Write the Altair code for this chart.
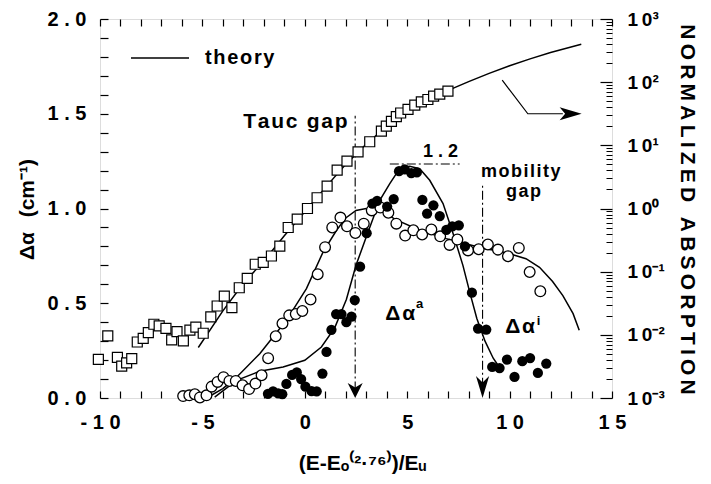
import altair as alt
import pandas as pd

FONT = "Liberation Sans"
HAIR = "\u200a"
THIN = "\u2009"
EN = "\u2002"


def spaced(s, sep=HAIR):
    return sep.join(s)


# ---- normalized absorption (right axis, log scale) ----
sq_x = [-10.08, -9.62, -9.15, -8.94, -8.70, -8.45, -8.18, -7.89, -7.64, -7.37,
        -7.11, -6.78, -6.50, -6.24, -5.93, -5.61, -5.32, -4.96, -4.59, -4.28,
        -3.93, -3.56, -3.20, -2.81, -2.42, -2.03, -1.63, -1.22, -0.81, -0.37,
        0.13, 0.60, 1.09, 1.58, 2.06, 2.60, 3.17, 3.74, 3.98, 4.23, 4.47, 4.68,
        5.04, 5.37, 5.69, 6.01, 6.29, 6.59, 6.99]
sq_y = [0.0041, 0.0096, 0.0044, 0.0032, 0.0036, 0.0042, 0.0077, 0.0088, 0.0108, 0.0147,
        0.0139, 0.0127, 0.0083, 0.0112, 0.0080, 0.0119, 0.0132, 0.0106, 0.0193, 0.0286,
        0.0411, 0.0269, 0.0556, 0.0783, 0.131, 0.140, 0.177, 0.254, 0.50, 0.68,
        1.0, 1.48, 2.26, 4.05, 5.62, 7.9, 11.4, 16.8, 20.1, 24.0, 28.5, 32.5,
        37.0, 43.3, 48.8, 53.2, 60.0, 64.6, 72.1]

# theory curve for the normalized absorption
tha_x = [-5.2, -4.0, -3.0, -2.0, -1.0, 0.0, 1.0, 2.0, 3.0, 4.0, 5.0, 6.0, 7.0,
         8.0, 9.0, 10.0, 11.0, 12.0, 13.5]
tha_y = [0.0063, 0.024, 0.065, 0.148, 0.37, 0.89, 2.14, 5.0, 10.5, 20.0, 34.0, 52.0,
         74.0, 102.0, 138.0, 182.0, 234.0, 295.0, 398.0]

# ---- delta alpha, open circles ----
oc_x = [-5.94, -5.64, -5.37, -5.12, -4.80, -4.55, -4.26, -3.97, -3.68, -3.37,
        -3.04, -2.72, -2.41, -2.11, -1.79, -1.42, -1.09, -0.76, -0.44, -0.12,
        0.28, 0.63, 0.99, 1.34, 1.74, 2.06, 2.47, 2.88, 3.27, 3.69, 4.08, 4.47,
        4.90, 5.30, 5.73, 6.18, 6.61, 7.07, 7.45, 7.97, 8.49, 8.94, 9.43, 9.92,
        10.45, 10.98, 11.50]
oc_y = [0.01, 0.014, 0.02, 0.003, 0.014, 0.06, 0.085, 0.11, 0.09, 0.09,
        0.067, 0.047, 0.076, 0.12, 0.21, 0.326, 0.393, 0.436, 0.443, 0.459,
        0.52, 0.653, 0.796, 0.90, 0.952, 0.906, 0.871, 0.92, 0.99, 1.005, 0.978, 0.92,
        0.857, 0.885, 0.863, 0.889, 0.853, 0.808, 0.836, 0.779, 0.785, 0.81, 0.783, 0.748,
        0.792, 0.665, 0.563]

# ---- delta alpha, filled circles ----
fc_x = [-1.80, -1.55, -1.30, -1.10, -0.90, -0.62, -0.39, -0.18, 0.03, 0.33,
        0.58, 0.86, 1.06, 1.30, 1.53, 1.79, 2.03, 2.28, 2.44, 2.70, 3.02, 3.30,
        3.53, 4.02, 4.34, 4.60, 4.88, 5.20, 5.47, 5.74, 5.97, 6.28, 6.59, 6.91,
        7.20, 7.52, 7.82, 8.16, 8.46, 8.86, 9.15, 9.51, 9.87, 10.24, 10.62, 11.00,
        11.38, 11.79]
fc_y = [0.022, 0.035, 0.025, 0.02, 0.074, 0.122, 0.135, 0.10, 0.06, 0.036,
        0.035, 0.129, 0.243, 0.36, 0.443, 0.443, 0.40, 0.43, 0.517, 0.693, 0.87, 1.026,
        1.04, 1.01, 1.05, 1.197, 1.207, 1.187, 1.19, 1.045, 0.973, 1.017, 0.96, 0.887,
        0.906, 0.911, 0.80, 0.556, 0.366, 0.361, 0.164, 0.158, 0.203, 0.111, 0.194, 0.211,
        0.132, 0.182]

# ---- theory curves for delta alpha ----
tho_x = [-4.8, -4.0, -3.33, -2.2, -0.9, 0.08, 0.89, 1.55, 2.0, 2.5, 3.0, 3.66, 4.47,
         5.61, 6.91, 8.0, 8.7, 9.5, 10.2, 10.8, 11.46, 12.1, 12.6, 13.1, 13.4]
tho_y = [0.0, 0.05, 0.11, 0.234, 0.41, 0.577, 0.77, 0.885, 0.95, 0.99, 1.0, 0.99, 0.94,
         0.885, 0.841, 0.81, 0.79, 0.775, 0.755, 0.735, 0.69, 0.615, 0.54, 0.445, 0.357]
thf_x = [-4.4, -3.33, -2.2, -1.06, 0.0, 0.81, 1.46, 2.03, 2.5, 3.0, 3.66, 4.15, 4.63,
         5.12, 5.61, 6.10, 6.75, 7.24, 7.72, 8.05, 8.4, 8.8, 9.2, 9.45]
thf_y = [0.005, 0.093, 0.141, 0.164, 0.199, 0.269, 0.37, 0.52, 0.70, 0.85, 1.043, 1.131,
         1.21, 1.223, 1.21, 1.149, 1.026, 0.868, 0.70, 0.56, 0.42, 0.30, 0.21, 0.17]

# ---- gap markers and labels ----
tauc_gap = 2.46
mobility_gap = 8.68
peak_value = 1.2

# ---------------------------------------------------------------
sq_df = pd.DataFrame({"x": sq_x, "y": sq_y})
tha_df = pd.DataFrame({"x": tha_x, "y": tha_y, "label": "theory"})
oc_df = pd.DataFrame({"x": oc_x, "y": oc_y})
fc_df = pd.DataFrame({"x": fc_x, "y": fc_y})
th_left_df = pd.concat([
    pd.DataFrame({"x": tho_x, "y": tho_y, "curve": "open"}),
    pd.DataFrame({"x": thf_x, "y": thf_y, "curve": "filled"}),
])

x_scale = alt.Scale(domain=[-10, 15], nice=False, zero=False)
yl_scale = alt.Scale(domain=[0, 2], nice=False, zero=False)
yr_scale = alt.Scale(type="log", domain=[0.001, 1000], nice=False)

label_style = dict(labelFont=FONT, labelFontWeight="bold",
                   labelColor="black", labelFlush=False, labelOverlap=False,
                   labelBound=False, tickColor="black", tickWidth=1.2,
                   domain=False, grid=False)

x_bottom = alt.Axis(
    orient="bottom", values=list(range(-10, 16)), offset=-7, tickSize=7,
    labelPadding=14, labelFontSize=20,
    labelExpr="datum.value % 5 == 0 ? join(split('' + datum.value, ''), ' ') : ''",
    title="(E-Eₒ⁽²·⁷⁶⁾)/Eᵤ", titleFont=FONT, titleFontSize=21,
    titleFontWeight="bold", titleColor="black", titleX=262, titleY=72,
    titleBaseline="middle", titleAlign="center",
    **label_style)
x_top = alt.Axis(orient="top", values=list(range(-10, 16)), offset=-7, tickSize=7,
                 labels=False, title=None, tickColor="black", tickWidth=1.2,
                 domain=False, grid=False)

y_left = alt.Axis(
    orient="left", values=[round(i * 0.1, 1) for i in range(21)], offset=-8, tickSize=8,
    labelPadding=14, labelFontSize=20,
    labelExpr="abs(datum.value * 2 - round(datum.value * 2)) < 0.001 ? "
              "join(split(format(datum.value, '.1f'), ''), ' ') : ''",
    title="Δα" + EN + THIN + "(cm⁻¹)", titleFont=FONT, titleFontSize=21,
    titleFontWeight="bold", titleColor="black", titleAngle=270, titleX=-81, titleY=190,
    titleAlign="center", titleBaseline="middle",
    **label_style)

decades = [0.001, 0.01, 0.1, 1, 10, 100, 1000]
minors = [round(k * d, 4) for d in decades[:-1] for k in range(2, 10)]

y_right_major = alt.Axis(
    orient="right", values=decades, offset=-12, tickSize=12, labelPadding=15,
    labelFontSize=19,
    labelExpr="'1" + THIN + "0' + (datum.value < 1 ? '⁻' : '') + "
              "['⁰','¹','²','³'][round(abs(log(datum.value) / LN10))]",
    title=spaced("NORMALIZED", THIN) + EN + THIN + spaced("ABSORPTION", THIN),
    titleFont=FONT, titleFontSize=21, titleFontWeight="bold", titleColor="black",
    titleAngle=90, titleX=86, titleY=190, titleAlign="center", titleBaseline="middle",
    **label_style)
y_right_minor = alt.Axis(orient="right", values=minors, offset=-6, tickSize=6,
                         labels=False, title=None, tickColor="black", tickWidth=1.0,
                         domain=False, grid=False)

X = alt.X("x:Q", scale=x_scale, axis=x_bottom)
YL = alt.Y("y:Q", scale=yl_scale, axis=y_left)

# ---- left-axis layers ----
theory_left = alt.Chart(th_left_df).mark_line(color="black", strokeWidth=1.5).encode(
    x=X, y=YL, detail="curve:N", order="x:Q")

open_pts = alt.Chart(oc_df).mark_point(
    shape="circle", filled=True, fill="white", stroke="black", strokeWidth=1.3,
    size=115, opacity=1).encode(x=X, y=YL)

filled_pts = alt.Chart(fc_df).mark_circle(color="black", size=105, opacity=1).encode(
    x=X, y=YL)

dashdot = [9, 3, 2, 3]
gap_lines = alt.Chart(pd.DataFrame({
    "x": [tauc_gap, mobility_gap], "y": [0.04, 0.06], "y2": [1.49, 1.12]})
).mark_rule(color="black", strokeWidth=1.1, strokeDash=dashdot).encode(
    x=X, y=YL, y2="y2:Q")

peak_line = alt.Chart(pd.DataFrame({"x": [4.15], "x2": [7.56], "y": [1.235]})).mark_rule(
    color="black", strokeWidth=1.1, strokeDash=dashdot).encode(x=X, x2="x2:Q", y=YL)

tauc_head = alt.Chart(pd.DataFrame({"x": [tauc_gap], "y": [0.04]})).mark_point(
    shape="M-1,-1 L0,1 L1,-1 L0,-0.4 Z", size=225, filled=True, color="black",
    opacity=1).encode(x=X, y=YL)
mob_head = alt.Chart(pd.DataFrame({"x": [mobility_gap], "y": [0.058]})).mark_point(
    shape="M-0.6,-1 L0,1 L0.6,-1 L0,-0.4 Z", size=484, filled=True, color="black",
    opacity=1).encode(x=X, y=YL)

pointer = alt.Chart(pd.DataFrame({"x": [9.64, 10.89, 12.6], "y": [1.677, 1.50, 1.50],
                                  "i": [0, 1, 2]})).mark_line(
    color="black", strokeWidth=1.2).encode(x=X, y=YL, order="i:Q")
pointer_head = alt.Chart(pd.DataFrame({"x": [12.98], "y": [1.50]})).mark_point(
    shape="M-1,-0.6 L1,0 L-1,0.6 L-0.5,0 Z", size=484, filled=True, color="black",
    opacity=1).encode(x=X, y=YL)


def label_layer(texts, xs, ys, size):
    df = pd.DataFrame({"x": xs, "y": ys, "t": texts})
    return alt.Chart(df).mark_text(
        font=FONT, fontSize=size, fontWeight="bold", color="black",
        align="center", baseline="alphabetic").encode(x=X, y=YL, text="t:N")


labels_big = label_layer(
    [spaced("Tauc gap"), spaced("Δα"), spaced("Δα")],
    [-0.46, 4.66, 10.51], [1.427, 0.41, 0.341], 21)
labels_mid = label_layer(
    [spaced("1.2", " "), spaced("mobility"), spaced("gap")],
    [6.63, 10.54, 10.68], [1.27, 1.166, 1.061], 18)
labels_sup = label_layer(["a", "i"], [5.6, 11.42], [0.473, 0.384], 13)

left = alt.layer(theory_left, gap_lines, peak_line, tauc_head, mob_head, pointer,
                 pointer_head, open_pts, filled_pts, labels_big, labels_mid,
                 labels_sup)

# ---- right-axis layers ----
XT = alt.X("x:Q", scale=x_scale, axis=x_top)
theory_abs = alt.Chart(tha_df).mark_line(strokeWidth=1.5).encode(
    x=XT,
    y=alt.Y("y:Q", scale=yr_scale, axis=y_right_major),
    color=alt.Color("label:N", scale=alt.Scale(domain=["theory"], range=["black"]),
                    legend=alt.Legend(
                        orient="none", legendX=30, legendY=9, title=None,
                        symbolType="stroke", symbolSize=3364, symbolStrokeWidth=1.5,
                        symbolStrokeColor="black", labelOffset=15, padding=0,
                        labelFont=FONT, labelFontSize=20, labelFontWeight="bold",
                        labelColor="black",
                        labelExpr="join(split(datum.label, ''), '" + HAIR + "')")),
    order="x:Q")
squares = alt.Chart(sq_df).mark_point(
    shape="square", filled=True, fill="white", stroke="black", strokeWidth=1.2,
    size=100, opacity=1).encode(
    x=XT, y=alt.Y("y:Q", scale=yr_scale, axis=y_right_minor))

right = alt.layer(theory_abs, squares).resolve_axis(y="independent")

chart = alt.layer(left, right).resolve_scale(y="independent").resolve_axis(
    x="independent").properties(
    width=512, height=379,
    autosize=alt.AutoSizeParams(type="none"),
    padding={"left": 100, "top": 19, "right": 99, "bottom": 86},
).configure_view(stroke="black", strokeWidth=1.5).configure(background="white")

chart.save("out.html", embed_options={"renderer": "svg", "actions": False})
